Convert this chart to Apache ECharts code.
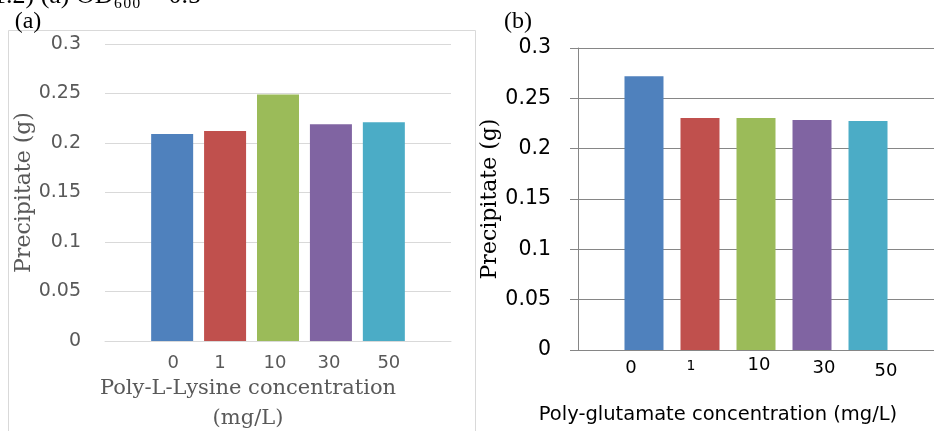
<!DOCTYPE html>
<html>
<head>
<meta charset="utf-8">
<script src="https://cdn.jsdelivr.net/npm/echarts@6/dist/echarts.min.js"></script>
<style>
html,body{margin:0;padding:0;background:#fff;}
#c{width:934px;height:431px;}
</style>
</head>
<body>
<div id="c"></div>
<script>
// ---- data ----
const categoriesA = ['0', '1', '10', '30', '50'];
const valuesA = [0.209, 0.212, 0.249, 0.219, 0.221];
const categoriesB = ['0', '1', '10', '30', '50'];
const valuesB = [0.272, 0.2305, 0.2305, 0.2285, 0.2275];
const yMin = 0, yMax = 0.3, yStep = 0.05;
const barColors = ['#4F81BD', '#C0504D', '#9BBB59', '#8064A2', '#4BACC6'];
const yTitle = 'Precipitate (g)';
const xTitleA = 'Poly-L-Lysine concentration\n(mg/L)';
const xTitleB = 'Poly-glutamate concentration (mg/L)';
const captionText = '1.2) (a) OD\u2086\u2080\u2080 = 0.5';

// ---- layout / style constants ----
const labelOffsetA = [[1, 0], [-5, 0], [-3, 0], [-2, 0], [5, 0]];
const labelOffsetB = [[-13, 0], [-9, 0], [3, -3], [12, 0], [18, 3]];
const labelSizeB = [18, 14, 18, 18, 18];
const sansFont = 'DejaVu Sans';
const serifFont = 'DejaVu Serif';

const chart = echarts.init(document.getElementById('c'));

const series = [];
categoriesA.forEach((cat, i) => {
  series.push({
    type: 'bar', name: cat, xAxisIndex: 0, yAxisIndex: 0,
    data: [valuesA[i]], barWidth: 42, barGap: '26%',
    itemStyle: { color: barColors[i] },
    silent: true,
    label: {
      show: true, position: 'bottom', distance: 13, offset: labelOffsetA[i],
      formatter: cat, color: '#595959', fontFamily: sansFont, fontSize: 18
    }
  });
});
categoriesB.forEach((cat, i) => {
  series.push({
    type: 'bar', name: cat + ' ', xAxisIndex: 1, yAxisIndex: 1,
    data: [valuesB[i]], barWidth: 39, barGap: '43.6%',
    itemStyle: { color: barColors[i] },
    silent: true,
    label: {
      show: true, position: 'bottom', distance: 9, offset: labelOffsetB[i],
      formatter: cat, color: '#000', fontFamily: sansFont, fontSize: labelSizeB[i]
    }
  });
});

chart.setOption({
  animation: false,
  backgroundColor: '#fff',
  grid: [
    { left: 105, top: 44, width: 346, height: 297 },
    { left: 578, top: 48, width: 363, height: 302 }
  ],
  xAxis: [
    { type: 'category', gridIndex: 0, data: [''],
      axisLine: { show: true, lineStyle: { color: '#d9d9d9', width: 1 } },
      axisTick: { show: false }, axisLabel: { show: false } },
    { type: 'category', gridIndex: 1, data: [''],
      axisLine: { show: true, lineStyle: { color: '#868686', width: 1 } },
      axisTick: { show: false }, axisLabel: { show: false } }
  ],
  yAxis: [
    { type: 'value', gridIndex: 0, min: yMin, max: yMax, interval: yStep,
      axisLine: { show: false }, axisTick: { show: false },
      axisLabel: { color: '#595959', fontFamily: sansFont, fontSize: 19, margin: 24 },
      splitLine: { lineStyle: { color: '#d9d9d9', width: 1 } },
      name: yTitle, nameLocation: 'middle', nameRotate: 90, nameGap: 75,
      nameTextStyle: { color: '#595959', fontFamily: serifFont, fontSize: 22, verticalAlign: 'middle' } },
    { type: 'value', gridIndex: 1, min: yMin, max: yMax, interval: yStep,
      axisLine: { show: true, lineStyle: { color: '#868686', width: 1 } },
      axisTick: { show: true, inside: false, length: 8, lineStyle: { color: '#868686' } },
      axisLabel: { color: '#000', fontFamily: sansFont, fontSize: 20.5, margin: 27 },
      splitLine: { lineStyle: { color: '#868686', width: 1 } },
      name: yTitle, nameLocation: 'middle', nameRotate: 90, nameGap: 78,
      nameTextStyle: { color: '#000', fontFamily: serifFont, fontSize: 22, verticalAlign: 'middle' } }
  ],
  series: series,
  graphic: [
    { type: 'rect', shape: { x: 8.5, y: 30.5, width: 467, height: 430 },
      style: { fill: 'none', stroke: '#d9d9d9', lineWidth: 1 }, silent: true, z: -1 },
    { type: 'text', x: -7, y: -4,
      style: { text: captionText, font: '26px "Liberation Serif"', fill: '#000', align: 'left', verticalAlign: 'middle' } },
    { type: 'text', x: 28, y: 22,
      style: { text: '(a)', font: '24px "Liberation Serif"', fill: '#000', align: 'center', verticalAlign: 'middle' } },
    { type: 'text', x: 518, y: 22,
      style: { text: '(b)', font: '24px "Liberation Serif"', fill: '#000', align: 'center', verticalAlign: 'middle' } },
    { type: 'text', x: 248, y: 404,
      style: { text: xTitleA, font: '21px "DejaVu Serif"', fill: '#595959', align: 'center', verticalAlign: 'middle', lineHeight: 30 } },
    { type: 'text', x: 718, y: 415,
      style: { text: xTitleB, font: '19.5px "DejaVu Sans"', fill: '#000', align: 'center', verticalAlign: 'middle' } }
  ]
});
</script>
</body>
</html>
